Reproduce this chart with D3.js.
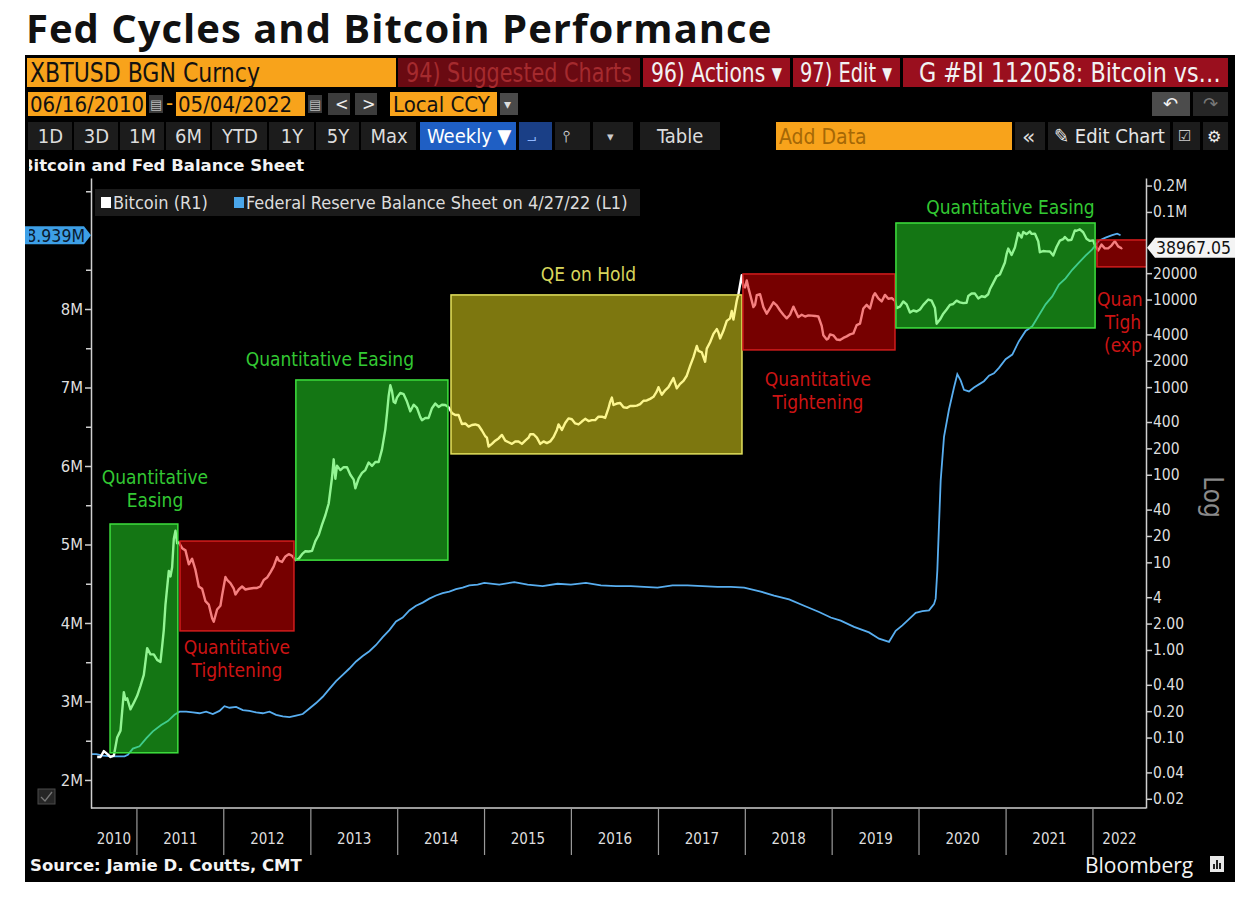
<!DOCTYPE html>
<html>
<head>
<meta charset="utf-8">
<script src="https://cdn.jsdelivr.net/npm/d3@7"></script>
<style>
  body { margin: 0; background: #fff; }
  svg { display: block; }
</style>
</head>
<body>
<svg id="chart" width="1250" height="898"></svg>
<script>
// Bitcoin weekly close, USD (right axis, log)
const bitcoin = [
  ['2010-07-18', 0.06], ['2010-07-25', 0.06], ['2010-08-01', 0.06], ['2010-08-15', 0.07], ['2010-08-29', 0.065],
  ['2010-09-12', 0.06], ['2010-09-26', 0.062], ['2010-10-10', 0.10], ['2010-10-24', 0.12], ['2010-11-07', 0.33],
  ['2010-11-14', 0.27], ['2010-11-21', 0.28], ['2010-12-05', 0.21], ['2010-12-19', 0.25],
  ['2011-01-02', 0.30], ['2011-01-16', 0.39], ['2011-01-30', 0.52], ['2011-02-13', 1.05], ['2011-02-27', 0.89],
  ['2011-03-13', 0.89], ['2011-03-27', 0.77], ['2011-04-10', 0.73], ['2011-04-17', 1.1], ['2011-04-24', 1.7],
  ['2011-05-01', 3.3], ['2011-05-15', 8.0], ['2011-05-22', 6.9], ['2011-05-29', 8.8], ['2011-06-05', 18.5],
  ['2011-06-12', 23.0], ['2011-06-19', 16.5], ['2011-06-26', 16.9], ['2011-07-10', 14.5], ['2011-07-24', 13.7],
  ['2011-08-07', 9.5], ['2011-08-21', 11.0], ['2011-09-04', 8.2], ['2011-09-18', 5.3], ['2011-10-02', 5.0],
  ['2011-10-16', 3.6], ['2011-10-30', 3.3], ['2011-11-13', 2.3], ['2011-11-20', 2.1], ['2011-12-04', 2.9],
  ['2011-12-18', 3.2], ['2011-12-25', 4.2],
  ['2012-01-08', 6.8], ['2012-01-15', 6.3], ['2012-01-29', 5.8], ['2012-02-12', 5.0], ['2012-02-19', 4.3],
  ['2012-03-04', 4.9], ['2012-03-18', 5.3], ['2012-04-01', 4.9], ['2012-04-15', 5.0], ['2012-05-06', 5.1],
  ['2012-05-20', 5.1], ['2012-06-03', 5.3], ['2012-06-17', 6.3], ['2012-07-01', 6.7], ['2012-07-15', 7.7],
  ['2012-07-29', 9.0], ['2012-08-12', 11.5], ['2012-08-19', 10.5], ['2012-09-02', 10.1], ['2012-09-16', 11.7],
  ['2012-09-30', 12.4], ['2012-10-14', 11.9], ['2012-10-28', 10.6], ['2012-11-11', 11.0], ['2012-11-25', 12.4],
  ['2012-12-09', 13.4], ['2012-12-23', 13.3],
  ['2013-01-06', 13.5], ['2013-01-20', 17.5], ['2013-02-03', 20.5], ['2013-02-17', 27.0], ['2013-03-03', 34.5],
  ['2013-03-17', 47], ['2013-03-31', 93], ['2013-04-07', 150], ['2013-04-14', 90], ['2013-04-21', 127],
  ['2013-05-05', 113], ['2013-05-19', 122], ['2013-06-02', 122], ['2013-06-16', 100], ['2013-06-30', 88],
  ['2013-07-07', 70], ['2013-07-21', 91], ['2013-08-04', 105], ['2013-08-18', 113], ['2013-09-01', 138],
  ['2013-09-15', 126], ['2013-09-29', 140], ['2013-10-13', 140], ['2013-10-27', 195], ['2013-11-10', 330],
  ['2013-11-17', 500], ['2013-11-24', 795], ['2013-12-01', 1050], ['2013-12-08', 900], ['2013-12-15', 680],
  ['2013-12-22', 660], ['2013-12-29', 760],
  ['2014-01-12', 860], ['2014-01-26', 830], ['2014-02-09', 685], ['2014-02-23', 530], ['2014-03-09', 630],
  ['2014-03-23', 580], ['2014-04-06', 455], ['2014-04-13', 420], ['2014-04-27', 445], ['2014-05-11', 445],
  ['2014-05-25', 575], ['2014-06-08', 650], ['2014-06-22', 595], ['2014-07-06', 630], ['2014-07-20', 625],
  ['2014-08-03', 590], ['2014-08-17', 505], ['2014-08-31', 480], ['2014-09-14', 480], ['2014-09-28', 380],
  ['2014-10-12', 385], ['2014-10-26', 355], ['2014-11-09', 370], ['2014-11-23', 375], ['2014-12-07', 365],
  ['2014-12-21', 320],
  ['2015-01-04', 275], ['2015-01-11', 265], ['2015-01-18', 210], ['2015-02-01', 225], ['2015-02-15', 245],
  ['2015-03-01', 260], ['2015-03-15', 285], ['2015-03-29', 245], ['2015-04-12', 235], ['2015-04-26', 225],
  ['2015-05-10', 240], ['2015-05-24', 240], ['2015-06-07', 225], ['2015-06-21', 245], ['2015-07-05', 265],
  ['2015-07-12', 290], ['2015-07-26', 290], ['2015-08-09', 265], ['2015-08-23', 225], ['2015-09-06', 240],
  ['2015-09-20', 230], ['2015-10-04', 240], ['2015-10-18', 270], ['2015-11-01', 325], ['2015-11-08', 375],
  ['2015-11-22', 325], ['2015-12-06', 390], ['2015-12-20', 440],
  ['2016-01-03', 430], ['2016-01-17', 385], ['2016-01-31', 375], ['2016-02-14', 405], ['2016-02-28', 435],
  ['2016-03-13', 410], ['2016-03-27', 420], ['2016-04-10', 420], ['2016-04-24', 460], ['2016-05-08', 460],
  ['2016-05-22', 445], ['2016-06-05', 575], ['2016-06-12', 680], ['2016-06-19', 760], ['2016-06-26', 625],
  ['2016-07-10', 650], ['2016-07-24', 660], ['2016-08-07', 590], ['2016-08-21', 580], ['2016-09-04', 610],
  ['2016-09-18', 610], ['2016-10-02', 615], ['2016-10-16', 640], ['2016-10-30', 700], ['2016-11-13', 705],
  ['2016-11-27', 735], ['2016-12-11', 775], ['2016-12-25', 895],
  ['2017-01-01', 1000], ['2017-01-08', 900], ['2017-01-15', 820], ['2017-01-29', 920], ['2017-02-12', 1000],
  ['2017-02-26', 1170], ['2017-03-05', 1270], ['2017-03-19', 970], ['2017-04-02', 1090], ['2017-04-16', 1180],
  ['2017-04-30', 1350], ['2017-05-14', 1750], ['2017-05-28', 2200], ['2017-06-11', 2950], ['2017-06-18', 2600],
  ['2017-07-02', 2500], ['2017-07-16', 1950], ['2017-07-23', 2750], ['2017-08-06', 3250], ['2017-08-20', 4050],
  ['2017-09-03', 4600], ['2017-09-10', 4200], ['2017-09-17', 3600], ['2017-10-01', 4400], ['2017-10-15', 5700],
  ['2017-10-29', 6100], ['2017-11-05', 7400], ['2017-11-12', 5900], ['2017-11-26', 9700], ['2017-12-03', 11500],
  ['2017-12-17', 19000], ['2017-12-24', 14000], ['2017-12-31', 13800],
  ['2018-01-07', 16500], ['2018-01-14', 13600], ['2018-01-21', 11500], ['2018-02-04', 8200], ['2018-02-11', 8700],
  ['2018-02-18', 11200], ['2018-03-04', 11500], ['2018-03-18', 8200], ['2018-04-01', 6900], ['2018-04-15', 8000],
  ['2018-04-29', 9300], ['2018-05-13', 8600], ['2018-05-27', 7500], ['2018-06-10', 6700], ['2018-06-24', 6100],
  ['2018-07-08', 6700], ['2018-07-22', 8300], ['2018-08-05', 6900], ['2018-08-12', 6300], ['2018-08-26', 6700],
  ['2018-09-09', 6400], ['2018-09-23', 6600], ['2018-10-07', 6550], ['2018-10-21', 6500], ['2018-11-04', 6400],
  ['2018-11-18', 5000], ['2018-11-25', 3900], ['2018-12-09', 3500], ['2018-12-16', 3600], ['2018-12-23', 4000],
  ['2019-01-06', 3900], ['2019-01-20', 3500], ['2019-02-03', 3450], ['2019-02-17', 3650], ['2019-03-03', 3800],
  ['2019-03-17', 4000], ['2019-03-31', 4100], ['2019-04-14', 5100], ['2019-04-28', 5300], ['2019-05-12', 7900],
  ['2019-05-26', 8700], ['2019-06-09', 7900], ['2019-06-23', 11000], ['2019-06-30', 11800], ['2019-07-14', 10300],
  ['2019-07-28', 9500], ['2019-08-11', 11300], ['2019-08-25', 10200], ['2019-09-08', 10400], ['2019-09-22', 9700],
  ['2019-09-29', 8000], ['2019-10-13', 8300], ['2019-10-27', 9500], ['2019-11-10', 8800], ['2019-11-24', 7100],
  ['2019-12-08', 7500], ['2019-12-22', 7300],
  ['2020-01-05', 7700], ['2020-01-19', 8700], ['2020-02-09', 10000], ['2020-02-23', 9700], ['2020-03-08', 8000],
  ['2020-03-15', 5300], ['2020-03-29', 5900], ['2020-04-12', 6900], ['2020-04-26', 7700], ['2020-05-10', 8700],
  ['2020-05-24', 8900], ['2020-06-07', 9700], ['2020-06-21', 9300], ['2020-07-05', 9100], ['2020-07-19', 9200],
  ['2020-07-26', 11000], ['2020-08-09', 11700], ['2020-08-23', 11700], ['2020-09-06', 10300], ['2020-09-20', 10900],
  ['2020-10-04', 10700], ['2020-10-18', 11500], ['2020-10-25', 13100], ['2020-11-08', 15500], ['2020-11-22', 18400],
  ['2020-12-06', 19300], ['2020-12-20', 23800], ['2020-12-27', 26500],
  ['2021-01-03', 33000], ['2021-01-10', 38200], ['2021-01-24', 32300], ['2021-02-07', 39200], ['2021-02-21', 57500],
  ['2021-03-07', 51000], ['2021-03-14', 59000], ['2021-03-28', 55800], ['2021-04-11', 59800], ['2021-04-18', 56200],
  ['2021-05-02', 56600], ['2021-05-16', 46400], ['2021-05-23', 34700], ['2021-06-06', 35800], ['2021-06-20', 35500],
  ['2021-07-04', 35300], ['2021-07-18', 31800], ['2021-08-01', 39800], ['2021-08-15', 47000], ['2021-08-29', 48900],
  ['2021-09-05', 51800], ['2021-09-19', 47300], ['2021-10-03', 48200], ['2021-10-17', 61500], ['2021-10-24', 61000],
  ['2021-11-07', 63300], ['2021-11-21', 58600], ['2021-12-05', 49400], ['2021-12-19', 46700],
  ['2022-01-02', 47300], ['2022-01-09', 41800], ['2022-01-23', 36300], ['2022-02-06', 42400], ['2022-02-20', 38400],
  ['2022-03-06', 38400], ['2022-03-20', 41300], ['2022-04-03', 46400], ['2022-04-17', 40400], ['2022-05-01', 38500],
  ['2022-05-04', 38967.05]
];

// Federal Reserve balance sheet, USD M of M (left axis)
const fedBalance = [
  ['2010-06-16', 2.33], ['2010-07-14', 2.33], ['2010-08-11', 2.31], ['2010-09-15', 2.30], ['2010-10-13', 2.30],
  ['2010-11-10', 2.30], ['2010-11-24', 2.32], ['2010-12-15', 2.40], ['2011-01-12', 2.43], ['2011-02-09', 2.53],
  ['2011-03-09', 2.62], ['2011-04-13', 2.70], ['2011-05-11', 2.75], ['2011-06-08', 2.83], ['2011-06-29', 2.87],
  ['2011-07-27', 2.87], ['2011-08-24', 2.86], ['2011-09-21', 2.85], ['2011-10-19', 2.87], ['2011-11-16', 2.84],
  ['2011-12-14', 2.88], ['2012-01-04', 2.94], ['2012-01-25', 2.92], ['2012-02-22', 2.93], ['2012-03-21', 2.89],
  ['2012-04-18', 2.88], ['2012-05-16', 2.86], ['2012-06-13', 2.85], ['2012-07-11', 2.87], ['2012-08-08', 2.83],
  ['2012-09-05', 2.81], ['2012-10-03', 2.80], ['2012-10-31', 2.82], ['2012-11-28', 2.84], ['2012-12-26', 2.91],
  ['2013-01-23', 2.98], ['2013-02-20', 3.06], ['2013-03-20', 3.16], ['2013-04-17', 3.26], ['2013-05-15', 3.34],
  ['2013-06-12', 3.42], ['2013-07-10', 3.51], ['2013-08-07', 3.58], ['2013-09-04', 3.64], ['2013-10-02', 3.72],
  ['2013-10-30', 3.82], ['2013-11-27', 3.91], ['2013-12-25', 4.02], ['2014-01-22', 4.07], ['2014-02-19', 4.16],
  ['2014-03-19', 4.22], ['2014-04-16', 4.26], ['2014-05-14', 4.31], ['2014-06-11', 4.35], ['2014-07-09', 4.38],
  ['2014-08-06', 4.40], ['2014-09-03', 4.43], ['2014-10-01', 4.45], ['2014-10-29', 4.48], ['2014-12-03', 4.49],
  ['2014-12-31', 4.51], ['2015-03-04', 4.49], ['2015-05-06', 4.52], ['2015-07-01', 4.49], ['2015-09-02', 4.47],
  ['2015-11-04', 4.50], ['2015-12-30', 4.49], ['2016-03-02', 4.51], ['2016-05-04', 4.48], ['2016-07-06', 4.47],
  ['2016-09-07', 4.47], ['2016-11-02', 4.46], ['2016-12-28', 4.45], ['2017-03-01', 4.48], ['2017-05-03', 4.48],
  ['2017-07-05', 4.47], ['2017-09-06', 4.46], ['2017-11-01', 4.46], ['2017-12-27', 4.45], ['2018-03-07', 4.40],
  ['2018-05-02', 4.35], ['2018-07-04', 4.30], ['2018-09-05', 4.22], ['2018-11-07', 4.14], ['2018-12-26', 4.07],
  ['2019-02-06', 4.03], ['2019-04-03', 3.95], ['2019-06-05', 3.88], ['2019-07-17', 3.80], ['2019-08-28', 3.76],
  ['2019-09-25', 3.90], ['2019-10-23', 3.97], ['2019-11-20', 4.05], ['2019-12-18', 4.13], ['2020-01-15', 4.15],
  ['2020-02-12', 4.16], ['2020-03-04', 4.24], ['2020-03-11', 4.31], ['2020-03-18', 4.67], ['2020-03-25', 5.25],
  ['2020-04-01', 5.81], ['2020-04-15', 6.37], ['2020-05-06', 6.72], ['2020-05-27', 7.00], ['2020-06-10', 7.17],
  ['2020-06-24', 7.09], ['2020-07-08', 6.97], ['2020-07-29', 6.95], ['2020-08-19', 7.00], ['2020-09-09', 7.04],
  ['2020-09-30', 7.08], ['2020-10-21', 7.15], ['2020-11-11', 7.18], ['2020-12-02', 7.25], ['2020-12-30', 7.36],
  ['2021-01-27', 7.42], ['2021-02-24', 7.59], ['2021-03-24', 7.72], ['2021-04-21', 7.78], ['2021-05-19', 7.92],
  ['2021-06-16', 8.06], ['2021-07-14', 8.16], ['2021-08-11', 8.31], ['2021-09-08', 8.39], ['2021-10-06', 8.50],
  ['2021-11-03', 8.59], ['2021-12-01', 8.68], ['2021-12-29', 8.76], ['2022-01-26', 8.87], ['2022-02-23', 8.91],
  ['2022-03-23', 8.94], ['2022-04-13', 8.96], ['2022-04-27', 8.939]
];

// Fed policy regimes: start, end, bitcoin price band (high, low)
const cycleNames = [['Quantitative', 'Easing'], ['Quantitative', 'Tightening'], ['Quantitative Easing'],
  ['QE on Hold'], ['Quantitative', 'Tightening'], ['Quantitative Easing'], ['Quantitative', 'Tightening', '(expected)']];
const cycleKinds = ['qe', 'qt', 'qe', 'hold', 'qt', 'qe', 'qt'];
const cycleStart = ['2010-09-10', '2011-07-01', '2012-10-30', '2014-08-13', '2017-12-22', '2019-09-26', '2022-01-18'];
const cycleEnd = ['2011-06-22', '2012-10-22', '2014-07-31', '2017-12-18', '2019-09-22', '2022-01-10', '2022-12-31'];
const cycleHigh = [27.4, 17.5, 1208, 11290, 19600, 74800, 47900];
const cycleLow = [0.067, 1.65, 10.6, 173, 2660, 4740, 23600];

const leftTicks = [2, 3, 4, 5, 6, 7, 8];
const leftMinor = [2.5, 3.5, 4.5, 5.5, 6.5, 7.5, 8.5, 9.5];
const rightTicks = [200000, 100000, 20000, 10000, 4000, 2000, 1000, 400, 200, 100, 40, 20, 10, 4, 2, 1, 0.4, 0.2, 0.1, 0.04, 0.02];
const rightLabels = ['0.2M', '0.1M', '20000', '10000', '4000', '2000', '1000', '400', '200', '100', '40', '20', '10',
  '4', '2.00', '1.00', '0.40', '0.20', '0.10', '0.04', '0.02'];
const years = d3.range(2010, 2023);

// ---- layout
const svg = d3.select('#chart');
const parse = d3.timeParse('%Y-%m-%d');
const plot = { left: 91, right: 1146, top: 178, bottom: 808 };
const cond = '"DejaVu Sans Condensed", "DejaVu Sans", sans-serif';
const verd = '"DejaVu Sans", Verdana, sans-serif';
const orange = '#f8a31b';
const crimson = '#9a0f1e';

const x = d3.scaleTime()
  .domain([parse('2010-06-22'), parse('2022-08-12')])
  .range([plot.left, plot.right]);
const yLeft = d3.scaleLinear().domain([1.643, 9.669]).range([plot.bottom, plot.top]);
const yRight = d3.scaleLog().domain([0.0157, 244000]).range([plot.bottom, plot.top]);

// title
svg.append('text')
  .attr('x', 26).attr('y', 43)
  .style('font-family', '"Open Sans", "Noto Sans", sans-serif')
  .style('font-weight', 700).style('font-size', '40px').style('letter-spacing', '1px').style('fill', '#111')
  .text('Fed Cycles and Bitcoin Performance');

// terminal panel
svg.append('rect').attr('x', 25).attr('y', 55).attr('width', 1210).attr('height', 827).attr('fill', '#000');

// toolbar cell; fit = squeeze the label to that width (terminal font is narrow)
function box (x0, y0, w, h, fill, label, color, size, font, tx, fit) {
  svg.append('rect').attr('x', x0).attr('y', y0).attr('width', w).attr('height', h).attr('fill', fill);
  if (label) {
    const t = svg.append('text').attr('x', x0 + (tx || 4)).attr('y', y0 + h / 2).attr('dy', '0.36em')
      .style('font-family', font || cond).style('font-size', size + 'px').style('fill', color)
      .text(label);
    if (fit) {
      const k = fit / t.node().getComputedTextLength();
      t.attr('x', 0).attr('y', 0)
        .attr('transform', 'translate(' + (x0 + (tx || 4)) + ',' + (y0 + h / 2) + ') scale(' + k + ',1)');
    }
  }
}

// row 1
box(27, 58, 369, 29, orange, 'XBTUSD BGN Curncy', '#111', 27, cond, 3, 230);
box(398, 58, 242, 29, '#6a0a12', '94) Suggested Charts', '#a52a2e', 27, cond, 8, 226);
box(643, 58, 147, 29, crimson, '96) Actions \u25BE', '#f2f2f2', 27, cond, 8, 131);
box(793, 58, 107, 29, crimson, '97) Edit \u25BE', '#f2f2f2', 27, cond, 7, 92);
box(903, 58, 325, 29, crimson, 'G #BI 112058: Bitcoin vs\u2026', '#f2f2f2', 27, cond, 16, 302);

// row 2
box(28, 92, 118, 24, orange, '06/16/2010', '#111', 22, cond, 2);
box(149, 95, 14, 18, '#3a3a3a', '\u25A4', '#bbb', 13, verd, 1);
svg.append('text').attr('x', 166).attr('y', 110).style('font-family', cond).style('font-size', '22px')
  .style('fill', orange).text('-');
box(176, 92, 129, 24, orange, '05/04/2022', '#111', 22, cond, 2);
box(308, 95, 14, 18, '#3a3a3a', '\u25A4', '#bbb', 13, verd, 1);
box(328, 93, 22, 22, '#3c3c3c', '<', '#eee', 18, cond, 7);
box(355, 93, 22, 22, '#3c3c3c', '>', '#eee', 18, cond, 7);
box(390, 92, 107, 24, orange, 'Local CCY', '#111', 22, cond, 3);
box(500, 93, 18, 22, '#4a4a4a', '\u25BE', '#ddd', 14, verd, 4);
box(1152, 92, 38, 24, '#4c4c4c', '\u21B6', '#f2f2f2', 18, verd, 11);
box(1193, 92, 35, 24, '#262626', '\u21B7', '#777', 18, verd, 10);

// row 3
const periodBtns = [['1D', 28, 45], ['3D', 74, 45], ['1M', 120, 45], ['6M', 166, 45], ['YTD', 212, 56],
  ['1Y', 269, 46], ['5Y', 316, 44], ['Max', 361, 56]];
periodBtns.forEach(function (b) {
  svg.append('rect').attr('x', b[1]).attr('y', 122).attr('width', b[2] - 1).attr('height', 28).attr('fill', '#1c1c1c');
  svg.append('text').attr('x', b[1] + b[2] / 2).attr('y', 136).attr('dy', '0.36em').attr('text-anchor', 'middle')
    .style('font-family', cond).style('font-size', '20px').style('fill', '#dcdcdc').text(b[0]);
});
box(420, 122, 96, 28, '#1f5fc4', 'Weekly \u25BC', '#fff', 20, cond, 7);
box(519, 122, 33, 28, '#1a3f86', '\u2A3C', '#8fb7ff', 16, verd, 8);
box(555, 122, 35, 28, '#1c1c1c', '\u2AEF', '#ccc', 16, verd, 8);
box(593, 122, 40, 28, '#1c1c1c', '\u25BE', '#ccc', 13, verd, 14);
box(640, 122, 80, 28, '#1c1c1c', 'Table', '#dcdcdc', 20, cond, 17);
box(776, 122, 236, 28, orange, 'Add Data', '#a56806', 21, cond, 3);
box(1015, 122, 30, 28, '#1c1c1c', '\u00AB', '#dcdcdc', 22, verd, 7);
box(1048, 122, 122, 28, '#1c1c1c', '\u270E Edit Chart', '#e6e6e6', 20, cond, 6);
box(1173, 122, 27, 28, '#1c1c1c', '\u2611', '#ccc', 15, verd, 5);
box(1203, 122, 25, 28, '#1c1c1c', '\u2699', '#eee', 16, verd, 4);

// chart title row, cut at panel edge
svg.append('clipPath').attr('id', 'panelClip')
  .append('rect').attr('x', 29).attr('y', 55).attr('width', 1206).attr('height', 827);
svg.append('text').attr('x', 21).attr('y', 171).attr('clip-path', 'url(#panelClip)')
  .style('font-family', verd).style('font-weight', 700).style('font-size', '16.5px').style('fill', '#f2f2f2')
  .text('Bitcoin and Fed Balance Sheet');

// ---- plot
svg.append('clipPath').attr('id', 'plotClip')
  .append('rect').attr('x', plot.left).attr('y', plot.top)
  .attr('width', plot.right - plot.left).attr('height', plot.bottom - plot.top);
const g = svg.append('g').attr('clip-path', 'url(#plotClip)');

const fedLine = d3.line()
  .x(function (d) { return x(parse(d[0])) })
  .y(function (d) { return yLeft(d[1]) });
const btcLine = d3.line()
  .x(function (d) { return x(parse(d[0])) })
  .y(function (d) { return yRight(d[1]) });

g.append('path').attr('d', fedLine(fedBalance))
  .attr('fill', 'none').attr('stroke', '#58aef0').attr('stroke-width', 1.8);
g.append('path').attr('d', btcLine(bitcoin))
  .attr('fill', 'none').attr('stroke', '#fff').attr('stroke-width', 2.4).attr('stroke-linejoin', 'round');

// regime boxes drawn over the lines, translucent
const kindStyle = {
  qe: { fill: 'rgb(40,235,40)', stroke: '#3ee03e', text: '#33c833' },
  qt: { fill: 'rgb(235,0,0)', stroke: '#d21c1c', text: '#cc1414' },
  hold: { fill: 'rgb(250,238,30)', stroke: '#e4e25e', text: '#d8d65c' }
};
// label anchor: 'above'/'below' the box, horizontal shift from box centre, gap to box
const labelPlace = [['above', 11, 17], ['below', 0, 23], ['above', -42, 14], ['above', -8, 14],
  ['below', -1, 36], ['above', 15, 9], ['below', 12, 39]];

cycleNames.forEach(function (name, i) {
  const st = kindStyle[cycleKinds[i]];
  const x0 = x(parse(cycleStart[i]));
  const x1 = x(parse(cycleEnd[i]));
  const y0 = yRight(cycleHigh[i]);
  const y1 = yRight(cycleLow[i]);
  g.append('rect').attr('x', x0).attr('y', y0).attr('width', x1 - x0).attr('height', y1 - y0)
    .attr('fill', st.fill).attr('fill-opacity', 0.5)
    .attr('stroke', st.stroke).attr('stroke-width', 1.5);
  const p = labelPlace[i];
  const cx = (x0 + x1) / 2 + p[1];
  const lh = 23;
  const base = p[0] === 'above' ? y0 - p[2] - (name.length - 1) * lh : y1 + p[2];
  name.forEach(function (line, k) {
    const t = svg.append('text').attr('x', cx).attr('y', base + k * lh).attr('text-anchor', 'middle')
      .style('font-family', cond).style('font-size', '19px').style('fill', st.text).text(line);
    // the plot edge cuts the label: keep only what fits inside it
    const w = t.node().getComputedTextLength();
    if (cx + w / 2 > plot.right) {
      const left = cx - w / 2;
      t.attr('x', left).attr('text-anchor', 'start');
      let s = line;
      while (s.length > 1 && left + t.node().getComputedTextLength() > plot.right - 2) {
        s = s.slice(0, -1);
        t.text(s);
      }
    }
  });
});

// legend
svg.append('rect').attr('x', 95).attr('y', 189).attr('width', 545).attr('height', 27).attr('fill', '#1b1b1b');
svg.append('rect').attr('x', 101).attr('y', 197).attr('width', 10).attr('height', 11).attr('fill', '#fff');
svg.append('text').attr('x', 113).attr('y', 209).style('font-family', cond).style('font-size', '18px')
  .style('fill', '#ddd').text('Bitcoin (R1)');
svg.append('rect').attr('x', 234).attr('y', 197).attr('width', 10).attr('height', 11).attr('fill', '#4aa6ea');
svg.append('text').attr('x', 246).attr('y', 209).style('font-family', cond).style('font-size', '18px')
  .style('fill', '#ddd').text('Federal Reserve Balance Sheet on 4/27/22 (L1)');

// axes
const axisColor = '#cfcfcf';
function styleAxis (sel, size) {
  sel.selectAll('path.domain').attr('stroke', axisColor).attr('stroke-width', 1.5);
  sel.selectAll('.tick line').attr('stroke', axisColor).attr('stroke-width', 1.5);
  sel.selectAll('.tick text').style('font-family', cond).style('font-size', size + 'px').attr('fill', '#dedede');
}
const leftAxis = svg.append('g').attr('transform', 'translate(' + plot.left + ',0)')
  .call(d3.axisLeft(yLeft).tickValues(leftTicks).tickSize(6).tickSizeOuter(0).tickPadding(2)
    .tickFormat(function (d) { return d + 'M' }));
styleAxis(leftAxis, 16.5);
const leftMinorAxis = svg.append('g').attr('transform', 'translate(' + plot.left + ',0)')
  .call(d3.axisLeft(yLeft).tickValues(leftMinor).tickSize(5).tickSizeOuter(0).tickFormat(''));
styleAxis(leftMinorAxis, 16);
leftMinorAxis.select('path.domain').remove();

const rightAxis = svg.append('g').attr('transform', 'translate(' + plot.right + ',0)')
  .call(d3.axisRight(yRight).tickValues(rightTicks).tickSize(6).tickSizeOuter(0).tickPadding(1)
    .tickFormat(function (d, i) { return rightLabels[i] }));
styleAxis(rightAxis, 15.5);

// bottom axis: year separators with labels centred in each visible year
svg.append('line').attr('x1', plot.left).attr('x2', plot.right).attr('y1', plot.bottom).attr('y2', plot.bottom)
  .attr('stroke', axisColor).attr('stroke-width', 1.5);
const dom = x.domain();
years.forEach(function (yr) {
  const a = new Date(yr, 0, 1);
  const b = new Date(yr + 1, 0, 1);
  const xa = x(a < dom[0] ? dom[0] : a);
  const xb = x(b > dom[1] ? dom[1] : b);
  if (a > dom[0]) {
    svg.append('line').attr('x1', x(a)).attr('x2', x(a)).attr('y1', plot.bottom).attr('y2', 855)
      .attr('stroke', '#9a9a9a').attr('stroke-width', 1.2);
  }
  svg.append('text').attr('x', (xa + xb) / 2).attr('y', 844).attr('text-anchor', 'middle')
    .style('font-family', cond).style('font-size', '15px').style('fill', '#dedede').text(yr);
});

// last value tags
const lastFed = fedBalance[fedBalance.length - 1][1];
const lastBtc = bitcoin[bitcoin.length - 1][1];
const fy = yLeft(lastFed);
svg.append('path')
  .attr('d', 'M25,' + (fy - 9) + 'H84L91,' + fy + 'L84,' + (fy + 9) + 'H25Z')
  .attr('fill', '#3d9fe6');
svg.append('text').attr('x', 85).attr('y', fy).attr('dy', '0.36em').attr('text-anchor', 'end')
  .attr('clip-path', 'url(#panelClip)')
  .style('font-family', cond).style('font-size', '17.5px').style('fill', '#0b1a2e')
  .text(d3.format('.3f')(lastFed) + 'M');
const by = yRight(lastBtc);
svg.append('path')
  .attr('d', 'M' + (plot.right + 1) + ',' + by + 'L' + (plot.right + 9) + ',' + (by - 10) + 'H1235V' + (by + 10) + 'H' + (plot.right + 9) + 'Z')
  .attr('fill', '#f4f4f4');
svg.append('text').attr('x', plot.right + 10).attr('y', by).attr('dy', '0.36em')
  .attr('clip-path', 'url(#panelClip)')
  .style('font-family', cond).style('font-size', '17.5px').style('fill', '#111')
  .text(d3.format('.2f')(lastBtc));

// log marker
svg.append('text').attr('transform', 'translate(1204,497) rotate(90)').attr('text-anchor', 'middle')
  .style('font-family', cond).style('font-size', '26px').style('fill', '#8a8a8a').text('Log');

// small corner icon
svg.append('rect').attr('x', 38).attr('y', 789).attr('width', 17).attr('height', 15).attr('fill', '#262626')
  .attr('stroke', '#4a4a4a');
svg.append('path').attr('d', 'M41,797 L45,801 L52,792').attr('fill', 'none').attr('stroke', '#777').attr('stroke-width', 1.3);

// footer
svg.append('text').attr('x', 30).attr('y', 871)
  .style('font-family', verd).style('font-weight', 700).style('font-size', '16.5px').style('fill', '#f4f4f4')
  .text('Source: Jamie D. Coutts, CMT');
svg.append('text').attr('x', 1085).attr('y', 873)
  .style('font-family', '"Open Sans", "Noto Sans", sans-serif').style('font-size', '21px').style('fill', '#f4f4f4')
  .text('Bloomberg');
svg.append('rect').attr('x', 1210).attr('y', 856).attr('width', 14).attr('height', 16).attr('fill', '#e8e8e8');
[[1213, 5], [1216, 9], [1219, 6]].forEach(function (b) {
  svg.append('rect').attr('x', b[0]).attr('y', 869 - b[1]).attr('width', 2).attr('height', b[1]).attr('fill', '#222');
});
</script>
</body>
</html>
